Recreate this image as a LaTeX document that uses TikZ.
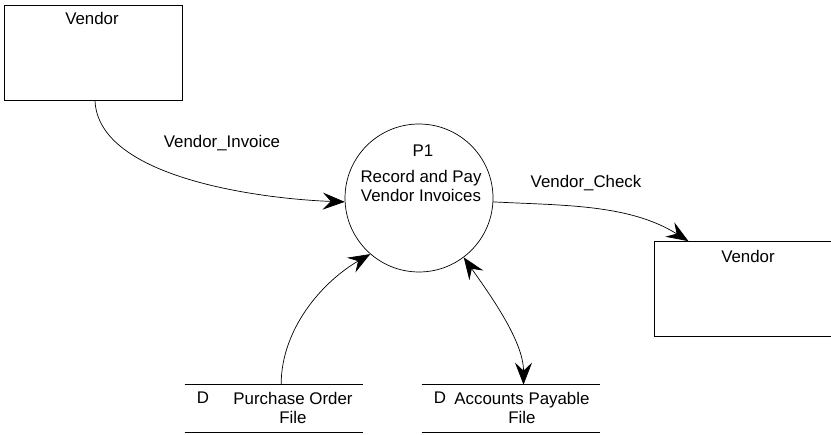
\documentclass[tikz,border=0pt]{standalone}
\usepackage{fontspec}
\setmainfont{Liberation Sans}
\usetikzlibrary{arrows.meta,calc}
\tikzset{
  entity/.style={draw, minimum width=3.56cm, minimum height=1.9cm, inner sep=0pt},
  process/.style={draw, circle, minimum size=2.96cm, inner sep=0pt},
  store/.style={minimum width=3.56cm, minimum height=0.94cm, inner sep=0pt},
  tip/.style={Stealth[length=0.44cm, width=0.34cm, inset=0.16cm]},
  flow/.style={-{Stealth[length=0.44cm, width=0.34cm, inset=0.16cm]}},
  dflow/.style={{Stealth[length=0.44cm, width=0.34cm, inset=0.16cm]}-{Stealth[length=0.44cm, width=0.34cm, inset=0.16cm]}},
  txt/.style={font=\fontsize{9.6}{11.5}\selectfont, align=center, inner sep=1pt}
}
\begin{document}
\begin{tikzpicture}[x=0.02cm, y=-0.02cm]
    \useasboundingbox (0, 0) rectangle (831, 435);
    % external entities
    \node[entity] (vendorA) at (93.5, 52.5) {};
    \node[txt] at (92, 18) {Vendor};
    \node[entity] (vendorB) at (743.5, 289) {};
    \node[txt] at (748, 256) {Vendor};
    % process
    \node[process] (proc) at (419, 198) {};
    \node[txt] (procId) at (423, 151) {P1};
    \node[txt, font=\fontsize{9.6}{11}\selectfont] (procName) at (421, 186) {Record and Pay\\Vendor Invoices};
    % data stores
    \node[store] (poFile) at (274, 408.5) {};
    \draw (poFile.north west) -- (poFile.north east) (poFile.south west) -- (poFile.south east);
    \node[txt] at (203, 398) {D};
    \node[txt, font=\fontsize{9.6}{11.3}\selectfont] at (293, 408) {Purchase Order\\File};
    \node[store] (apFile) at (511, 408.5) {};
    \draw (apFile.north west) -- (apFile.north east) (apFile.south west) -- (apFile.south east);
    \node[txt] at (440, 398) {D};
    \node[txt, font=\fontsize{9.6}{11.3}\selectfont] at (522, 408) {Accounts Payable\\File};
    % flows
    \draw[flow] ($(vendorA.south)+(1.5,0)$) to[out=-88, in=178, looseness=0.75] (proc.183);
    \node[txt] at (222, 143) {Vendor\_Invoice};
    \draw[flow] (proc.-3) to[out=-3, in=148, looseness=0.9] (vendorB.139);
    \node[txt] at (586, 183) {Vendor\_Check};
    \draw[flow] ($(poFile.north west)!0.54!(poFile.north east)$) to[out=90, in=210, looseness=0.9] (proc.229);
    \draw[dflow] (proc.-53) to[out=-55, in=90, looseness=0.8] ($(apFile.north west)!0.57!(apFile.north east)$);
  \end{tikzpicture}
\end{document}
